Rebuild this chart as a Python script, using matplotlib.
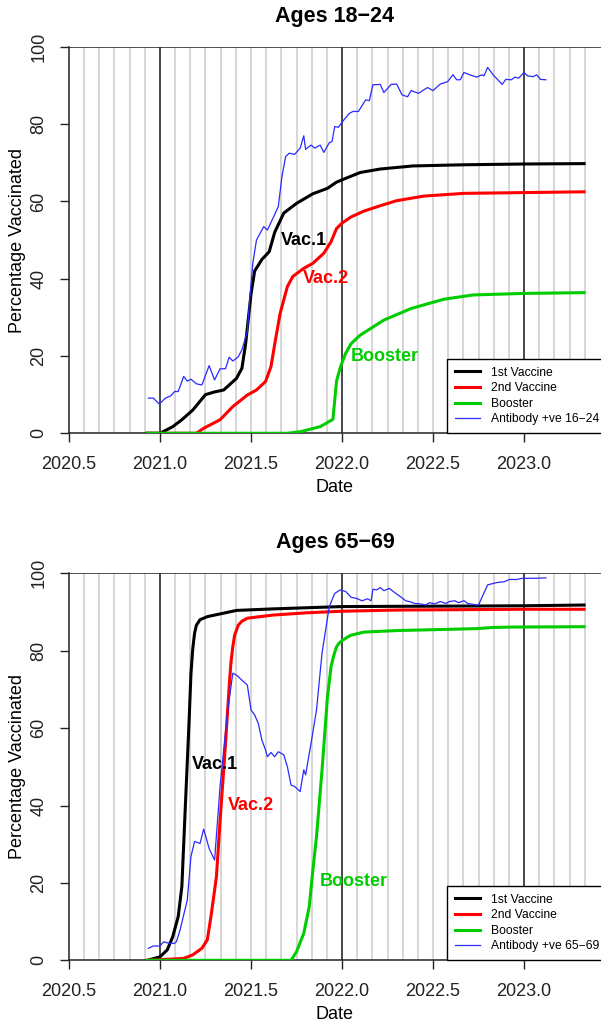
import numpy as np
import matplotlib
matplotlib.use("Agg")
import matplotlib.pyplot as plt

plt.rcParams['font.family'] = ['Liberation Sans', 'DejaVu Sans']

# =============================================================================
# 1. DATA (decimal year, percentage)
# =============================================================================
# ---- Ages 18-24 ----
young_v1_x = [2020.93, 2021.0, 2021.07, 2021.12, 2021.18, 2021.25, 2021.30, 2021.35, 2021.42,
              2021.45, 2021.47, 2021.50, 2021.52, 2021.56, 2021.60, 2021.63, 2021.68, 2021.75,
              2021.84, 2021.92, 2021.97, 2022.0, 2022.1, 2022.21, 2022.39, 2022.67, 2023.0, 2023.33]
young_v1_y = [0, 0, 1.7, 3.5, 6.0, 10.0, 10.7, 11.2, 14.2, 16.8, 23.0, 36.0, 42.0, 45.0, 47.0,
              52.0, 57.0, 59.5, 62.0, 63.4, 65.0, 65.6, 67.5, 68.4, 69.2, 69.5, 69.7, 69.8]

young_v2_x = [2020.93, 2021.20, 2021.24, 2021.33, 2021.40, 2021.48, 2021.53, 2021.58, 2021.61,
              2021.63, 2021.66, 2021.70, 2021.73, 2021.79, 2021.84, 2021.90, 2021.94, 2021.97,
              2022.0, 2022.05, 2022.12, 2022.21, 2022.30, 2022.45, 2022.67, 2023.0, 2023.33]
young_v2_y = [0, 0, 1.3, 3.5, 6.9, 9.9, 11.2, 13.4, 17.3, 23.0, 31.0, 38.0, 40.6, 42.7, 44.0,
              46.6, 49.6, 53.0, 54.4, 56.0, 57.5, 58.9, 60.2, 61.4, 62.1, 62.3, 62.5]

young_boost_x = [2020.93, 2021.70, 2021.77, 2021.88, 2021.95, 2021.97, 2021.99, 2022.02, 2022.05,
                 2022.10, 2022.23, 2022.38, 2022.56, 2022.72, 2023.0, 2023.33]
young_boost_y = [0, 0, 0.4, 1.7, 3.6, 13.5, 17.0, 20.7, 23.2, 25.4, 29.3, 32.3, 34.7, 35.8, 36.2, 36.4]

young_ab_x = [2020.936, 2020.963, 2020.996, 2021.03, 2021.06, 2021.08, 2021.10, 2021.13, 2021.15,
              2021.17, 2021.20, 2021.23, 2021.27, 2021.30, 2021.33, 2021.36, 2021.38, 2021.40,
              2021.43, 2021.45, 2021.48, 2021.495, 2021.51, 2021.53, 2021.57, 2021.59, 2021.62,
              2021.65, 2021.67, 2021.69, 2021.71, 2021.74, 2021.77, 2021.79, 2021.80, 2021.83,
              2021.85, 2021.88, 2021.90, 2021.93, 2021.945, 2021.96, 2021.98, 2022.01, 2022.04,
              2022.06, 2022.09, 2022.13, 2022.15, 2022.17, 2022.21, 2022.23, 2022.27, 2022.30,
              2022.33, 2022.36, 2022.38, 2022.42, 2022.47, 2022.50, 2022.54, 2022.58, 2022.61,
              2022.63, 2022.65, 2022.67, 2022.70, 2022.74, 2022.77, 2022.78, 2022.80, 2022.83,
              2022.88, 2022.90, 2022.93, 2022.95, 2022.97, 2023.0, 2023.02, 2023.05, 2023.07,
              2023.09, 2023.12]
young_ab_y = [9.1, 9.1, 7.6, 9.1, 9.7, 10.8, 10.8, 14.7, 13.5, 14.0, 12.8, 12.5, 17.5, 13.8, 16.7,
              16.7, 19.7, 18.7, 19.8, 21.6, 26.3, 36.0, 44.0, 50.0, 53.5, 52.6, 55.6, 58.7, 66.4,
              71.6, 72.5, 72.2, 73.8, 77.0, 73.5, 74.6, 73.8, 74.6, 72.7, 75.2, 75.5, 79.4, 79.2,
              81.1, 82.8, 83.3, 83.3, 86.3, 86.1, 90.2, 90.3, 88.2, 90.3, 90.4, 87.6, 87.1, 88.7,
              88.0, 89.5, 88.7, 90.4, 91.0, 92.8, 91.5, 91.5, 93.4, 92.8, 92.2, 92.8, 92.5, 94.7,
              92.8, 90.3, 91.6, 91.5, 92.2, 91.9, 93.4, 92.5, 92.3, 92.8, 91.6, 91.5]

# ---- Ages 65-69 ----
old_v1_x = [2020.93, 2021.0, 2021.04, 2021.07, 2021.10, 2021.12, 2021.14, 2021.16, 2021.17,
            2021.18, 2021.19, 2021.20, 2021.22, 2021.26, 2021.35, 2021.42, 2021.62, 2022.0,
            2022.5, 2023.0, 2023.33]
old_v1_y = [0, 0.9, 2.7, 6.1, 11.3, 19.0, 40.6, 62.0, 74.0, 80.5, 84.5, 86.6, 88.0, 88.8, 89.7,
            90.4, 90.8, 91.4, 91.5, 91.6, 91.8]

old_v2_x = [2020.93, 2021.13, 2021.18, 2021.23, 2021.26, 2021.28, 2021.31, 2021.33, 2021.36,
            2021.38, 2021.39, 2021.40, 2021.41, 2021.43, 2021.45, 2021.48, 2021.62, 2021.81,
            2022.0, 2022.3, 2023.0, 2023.33]
old_v2_y = [0, 0.5, 1.4, 3.1, 5.3, 11.3, 21.6, 36.0, 56.0, 70.7, 77.0, 81.0, 84.0, 86.6, 87.6,
            88.4, 89.2, 89.8, 90.2, 90.5, 90.7, 90.7]

old_boost_x = [2021.72 - 0.79, 2021.72, 2021.75, 2021.79, 2021.82, 2021.84, 2021.86, 2021.89,
               2021.92, 2021.94, 2021.955, 2021.97, 2021.985, 2022.0, 2022.03, 2022.05, 2022.12,
               2022.3, 2022.48, 2022.74, 2022.83, 2022.92, 2023.33]
old_boost_y = [0, 0, 2.2, 7.0, 13.9, 23.3, 32.0, 49.0, 68.0, 75.9, 78.8, 81.0, 82.0, 82.6, 83.5,
               84.0, 84.8, 85.2, 85.4, 85.7, 86.0, 86.1, 86.2]

old_ab_x = [2020.936, 2020.963, 2021.0, 2021.02, 2021.05, 2021.08, 2021.09, 2021.11, 2021.15,
            2021.17, 2021.19, 2021.22, 2021.24, 2021.27, 2021.30, 2021.33, 2021.37, 2021.40,
            2021.42, 2021.45, 2021.48, 2021.50, 2021.52, 2021.54, 2021.56, 2021.58, 2021.59,
            2021.61, 2021.63, 2021.65, 2021.68, 2021.70, 2021.72, 2021.74, 2021.77, 2021.79,
            2021.80, 2021.83, 2021.86, 2021.89, 2021.93, 2021.96, 2021.99, 2022.02, 2022.05,
            2022.08, 2022.11, 2022.14, 2022.16, 2022.17, 2022.19, 2022.21, 2022.23, 2022.26,
            2022.29, 2022.32, 2022.35, 2022.37, 2022.40, 2022.43, 2022.46, 2022.48, 2022.51,
            2022.54, 2022.57, 2022.59, 2022.62, 2022.64, 2022.67, 2022.69, 2022.74, 2022.75,
            2022.80, 2022.85, 2022.89, 2022.92, 2022.96, 2022.99, 2023.05, 2023.12]
old_ab_y = [3.1, 3.7, 3.7, 4.8, 4.4, 4.4, 4.8, 7.8, 15.6, 26.8, 30.7, 30.2, 33.9, 28.9, 25.9,
            44.9, 63.8, 74.2, 73.7, 72.4, 71.1, 64.7, 63.4, 61.2, 56.9, 54.3, 52.6, 53.7, 52.6,
            53.9, 53.1, 50.0, 45.3, 44.9, 43.6, 49.2, 47.9, 56.1, 64.7, 79.3, 91.4, 94.8, 95.7,
            95.3, 93.8, 93.5, 92.9, 93.4, 92.9, 95.9, 95.7, 96.3, 95.5, 96.1, 95.0, 94.0, 92.9,
            92.7, 92.2, 92.1, 91.8, 92.4, 92.1, 92.7, 92.2, 92.7, 92.9, 92.4, 92.9, 92.2, 91.8,
            91.8, 97.0, 97.6, 97.8, 98.4, 98.4, 98.7, 98.7, 98.8]

legend_labels = ["1st Vaccine", "2nd Vaccine", "Booster"]
year_ticks = [2020.5, 2021.0, 2021.5, 2022.0, 2022.5, 2023.0]
y_ticks = [0, 20, 40, 60, 80, 100]

GREEN = "#00CD00"
BLUE = "#2a2aff"


# =============================================================================
# 2. PANEL DRAWING
# =============================================================================
def draw_panel(ax, title, v1, v2, boost, ab, ab_label, text_pos):
    # monthly guide lines, year boundaries in black
    months = np.arange(2020.5 + 1 / 12, 2023.34, 1 / 12)
    for m in months:
        ax.axvline(m, color="#d3d3d3", lw=1.3, zorder=0)
    for yr in [2021, 2022, 2023]:
        ax.axvline(yr, color="#222222", lw=1.1, zorder=1)
    ax.axhline(100, color="#222222", lw=1.1, zorder=1)

    ax.plot(v1[0], v1[1], color="black", lw=2.2, label=legend_labels[0], zorder=3)
    ax.plot(v2[0], v2[1], color="red", lw=2.2, label=legend_labels[1], zorder=3)
    ax.plot(boost[0], boost[1], color=GREEN, lw=2.2, label=legend_labels[2], zorder=3)
    ax.plot(ab[0], ab[1], color=BLUE, lw=0.9, label=ab_label, zorder=4)

    for (txt, x, y, c) in text_pos:
        ax.text(x, y, txt, color=c, fontsize=13, fontweight="bold",
                ha="center", va="center", zorder=5)

    ax.set_xlim(2020.5, 2023.423)
    ax.set_ylim(0, 100)
    ax.set_xticks(year_ticks)
    ax.set_xticklabels([f"{t:.1f}" for t in year_ticks], fontsize=13, color="#222222")
    ax.set_yticks(y_ticks)
    ax.set_yticklabels([str(t) for t in y_ticks], fontsize=13, rotation=90,
                       va="center", color="#222222")
    ax.tick_params(axis="both", length=6.5, width=1, color="#222222")
    ax.tick_params(axis="x", pad=10)
    ax.tick_params(axis="y", pad=9)
    for side in ["top", "right"]:
        ax.spines[side].set_visible(False)
    for side in ["left", "bottom"]:
        ax.spines[side].set_color("#222222")
        ax.spines[side].set_linewidth(1.1)

    ax.set_xlabel("Date", fontsize=13, labelpad=4)
    ax.set_ylabel("Percentage Vaccinated", fontsize=13, labelpad=3)
    ax.set_title(title, fontsize=15.5, fontweight="bold", pad=18)

    leg = ax.legend(loc="lower right", bbox_to_anchor=(1.012, 0), fontsize=8.7,
                    frameon=True, fancybox=False, framealpha=1, edgecolor="black",
                    borderpad=0.65, labelspacing=0.3, handlelength=2.1,
                    handletextpad=0.9, borderaxespad=0)
    leg.get_frame().set_linewidth(1.0)
    leg.set_zorder(6)


fig = plt.figure(figsize=(6.01, 10.25), dpi=100)
ax_top = fig.add_axes([0.1148, 0.5773, 0.8852, 0.3769])
ax_bot = fig.add_axes([0.1148, 0.0631, 0.8852, 0.3776])

draw_panel(ax_top, "Ages 18\u221224",
           (young_v1_x, young_v1_y), (young_v2_x, young_v2_y),
           (young_boost_x, young_boost_y), (young_ab_x, young_ab_y),
           "Antibody +ve 16\u221224",
           [("Vac.1", 2021.79, 50, "black"), ("Vac.2", 2021.91, 40, "red"),
            ("Booster", 2022.235, 20, GREEN)])

draw_panel(ax_bot, "Ages 65\u221269",
           (old_v1_x, old_v1_y), (old_v2_x, old_v2_y),
           (old_boost_x, old_boost_y), (old_ab_x, old_ab_y),
           "Antibody +ve 65\u221269",
           [("Vac.1", 2021.30, 50.5, "black"), ("Vac.2", 2021.50, 40, "red"),
            ("Booster", 2022.067, 20.3, GREEN)])

fig.savefig("out.png", dpi=100)
